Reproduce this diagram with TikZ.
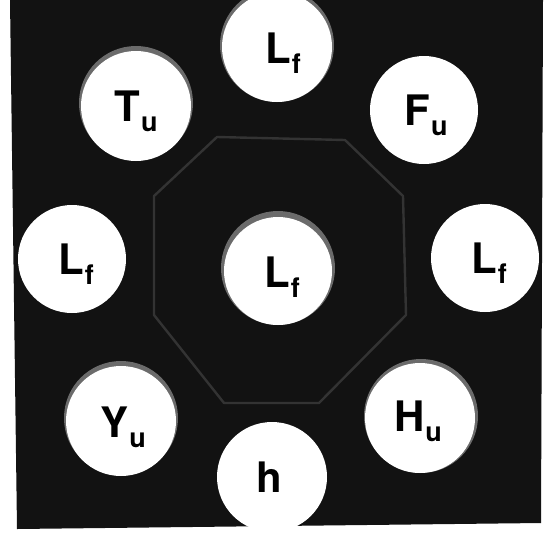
\documentclass[tikz,border=0pt]{standalone}
\usepackage{fontspec}
\setmainfont{TeX Gyre Heros}
\usetikzlibrary{calc}
\newcommand{\sublbl}[2]{#1\kern1pt\raisebox{-10pt}{\fontsize{27}{27}\selectfont #2}}
\tikzset{
  disc/.style={circle, fill=white, draw=none, minimum size=#1*2pt, inner sep=0pt},
  disc/.default=55,
  halo/.style={circle, fill=black!58, minimum size=#1*2pt+4pt, inner sep=0pt},
  halo/.default=55,
  lab/.style={anchor=base, inner sep=0pt, font=\fontsize{42}{42}\selectfont\bfseries, text=black},
  octa/.style={draw=black!80, line width=2.4pt, line join=round}
}
\begin{document}
\begin{tikzpicture}[x=1pt, y=-1pt]
\useasboundingbox (0,0) rectangle (549,547);
\fill[white] (0,0) rectangle (549,547);
\fill[black!93] (10,0) -- (543,0) -- (541,523) -- (17,529) -- cycle;
% octagon outline
\coordinate (o1) at (217,137);
\coordinate (o2) at (345,140);
\coordinate (o3) at (403,196);
\coordinate (o4) at (406,315);
\coordinate (o5) at (319,403);
\coordinate (o6) at (224,403);
\coordinate (o7) at (154,315);
\coordinate (o8) at (154,196);
\draw[octa] (o1) -- (o2) -- (o3) -- (o4) -- (o5) -- (o6) -- (o7) -- (o8) -- cycle;
% halos
\node[halo] (h1) at (277,45) {};
\node[halo] (h2) at (136,103) {};
\node[halo] (h5) at (278,268) {};
\node[halo] (h7) at (121,418) {};
\node[halo] (h8) at (421,416) {};
% discs
\node[disc] (top) at (277,47) {};
\node[disc] (tu) at (136,106) {};
\node[disc=54] (fu) at (424,110) {};
\node[disc=54] (lleft) at (72,259) {};
\node[disc=54] (mid) at (278,271) {};
\node[disc=54] (lright) at (485,258) {};
\node[disc] (yu) at (121,421) {};
\node[disc] (hu) at (420,418) {};
\node[disc] (hh) at (272,477) {};
% labels
\node[lab] (topt) at ($(top)+(6,16)$) {\sublbl{L}{f}};
\node[lab] (tut) at ($(tu)+(0,15)$) {\sublbl{T}{u}};
\node[lab] (fut) at ($(fu)+(2,15)$) {\sublbl{F}{u}};
\node[lab] (lleftt) at ($(lleft)+(4,15)$) {\sublbl{L}{f}};
\node[lab] (midt) at ($(mid)+(4,16)$) {\sublbl{L}{f}};
\node[lab] (lrightt) at ($(lright)+(4,15)$) {\sublbl{L}{f}};
\node[lab] (yut) at ($(yu)+(2,16)$) {\sublbl{Y}{u}};
\node[lab] (hut) at ($(hu)+(-2,13)$) {\sublbl{H}{u}};
\node[lab] (hht) at ($(hh)+(-3,15)$) {h};
\end{tikzpicture}
\end{document}
